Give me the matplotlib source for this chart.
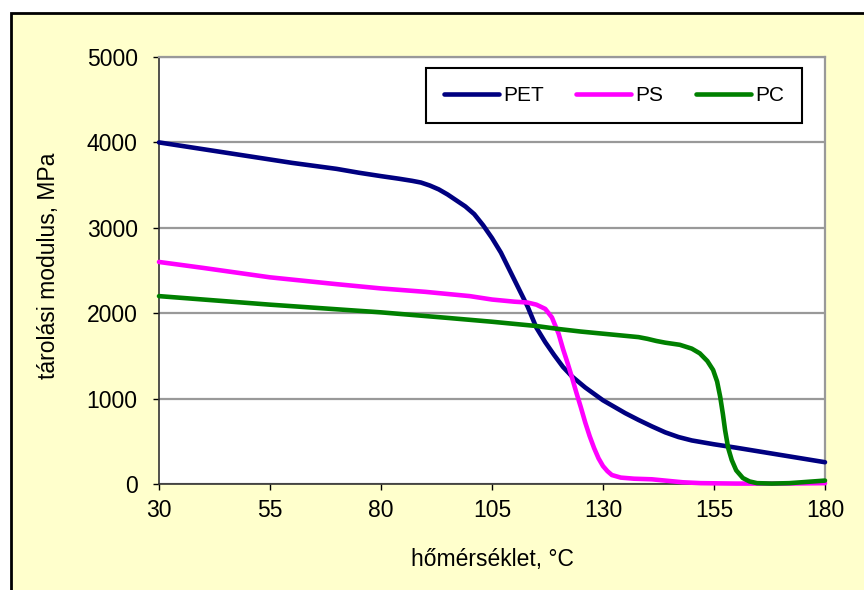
import matplotlib
matplotlib.use("Agg")
import matplotlib.pyplot as plt
from matplotlib.patches import Rectangle

plt.rcParams['font.family'] = ['Liberation Sans', 'DejaVu Sans']

# ---- data ----
t_pet = [30, 40, 50, 60, 70, 75, 80, 84, 87, 89, 91, 93, 95, 97, 99, 101, 103, 105, 107, 109,
         111, 113, 115, 117, 119, 121, 123, 126, 130, 135, 138, 141, 144, 147, 150, 155, 160,
         170, 180]
pet = [4000, 3920, 3840, 3760, 3690, 3645, 3605, 3575, 3550, 3530, 3495, 3450, 3390, 3320,
       3250, 3160, 3030, 2880, 2710, 2500, 2290, 2080, 1830, 1660, 1510, 1370, 1260, 1130,
       980, 830, 750, 675, 605, 550, 510, 465, 425, 340, 255]

t_ps = [30, 40, 55, 70, 80, 90, 100, 105, 110, 113, 115, 117, 118.5, 120, 121, 122, 123, 124,
        125, 126, 127, 128, 129, 130, 131, 132, 134, 137, 141, 144, 148, 152, 160, 170, 180]
ps = [2600, 2530, 2420, 2340, 2290, 2250, 2200, 2160, 2135, 2125, 2100, 2050, 1950, 1760,
      1580, 1420, 1250, 1070, 900, 720, 560, 420, 300, 210, 150, 105, 75, 62, 55, 40, 20, 10,
      5, 5, 10]

t_pc = [30, 55, 80, 95, 105, 115, 120, 125, 130, 135, 138, 140, 142, 144, 147.3, 150, 151.8,
        153.5, 154.8, 155.7, 156.4, 157, 157.5, 158.2, 159, 160, 161.5, 163, 164.7, 168, 172,
        176, 180]
pc = [2200, 2100, 2010, 1945, 1900, 1850, 1815, 1785, 1760, 1735, 1720, 1700, 1675, 1655,
      1630, 1585, 1530, 1440, 1335, 1200, 1020, 820, 630, 420, 280, 160, 70, 30, 10, 5, 10,
      25, 40]

x_ticks = [30, 55, 80, 105, 130, 155, 180]
y_ticks = [0, 1000, 2000, 3000, 4000, 5000]
series_names = ['PET', 'PS', 'PC']
colors = ['#000080', '#FF00FF', '#008000']

W, H = 864, 590
fig = plt.figure(figsize=(W / 100, H / 100), dpi=100, facecolor='white')

# yellow chart area with black frame (right/bottom edges run off the canvas)
fig.patches.append(Rectangle((11 / W, -0.1), 1.2, 1.1 - 13 / H, transform=fig.transFigure,
                             facecolor='#FFFFCC', edgecolor='black', linewidth=2, zorder=-10))

ax = fig.add_axes([159 / W, 1 - 484 / H, (825 - 159) / W, (484 - 57) / H])
ax.set_facecolor('white')

for t, v, name, c in zip([t_pet, t_ps, t_pc], [pet, ps, pc], series_names, colors):
    ax.plot(t, v, color=c, lw=3.3, label=name, solid_joinstyle='round',
            solid_capstyle='round', clip_on=False, zorder=3)

ax.set_xlim(30, 180)
ax.set_ylim(0, 5000)
ax.set_xticks(x_ticks)
ax.set_yticks(y_ticks)
ax.tick_params(axis='both', direction='out', length=4.3, width=1, colors='black',
               labelsize=16.5)
ax.tick_params(axis='y', pad=11)
ax.tick_params(axis='x', pad=6.5)
ax.yaxis.grid(True, color='#999999', linewidth=1.6)
ax.set_axisbelow(True)

for s in ['top', 'right']:
    ax.spines[s].set_color('#999999')
    ax.spines[s].set_linewidth(1.6)
for s in ['left', 'bottom']:
    ax.spines[s].set_color('#333333')
    ax.spines[s].set_linewidth(1.2)

ax.set_xlabel('hőmérséklet, °C', fontsize=16.5)
ax.set_ylabel('tárolási modulus, MPa', fontsize=16.5)
ax.xaxis.set_label_coords(0.5, -0.15)
ax.yaxis.set_label_coords(-0.148, 0.51)

leg = ax.legend(loc='center', ncol=3, bbox_to_anchor=(0.401, 0.838, 0.564, 0.143),
                mode='expand', borderaxespad=0, fancybox=False, edgecolor='black',
                framealpha=1, fontsize=15, handlelength=2.65, handletextpad=0.2,
                columnspacing=1.5, borderpad=0.85)
leg.get_frame().set_linewidth(1.5)

fig.savefig('out.png', dpi=100, facecolor=fig.get_facecolor())
